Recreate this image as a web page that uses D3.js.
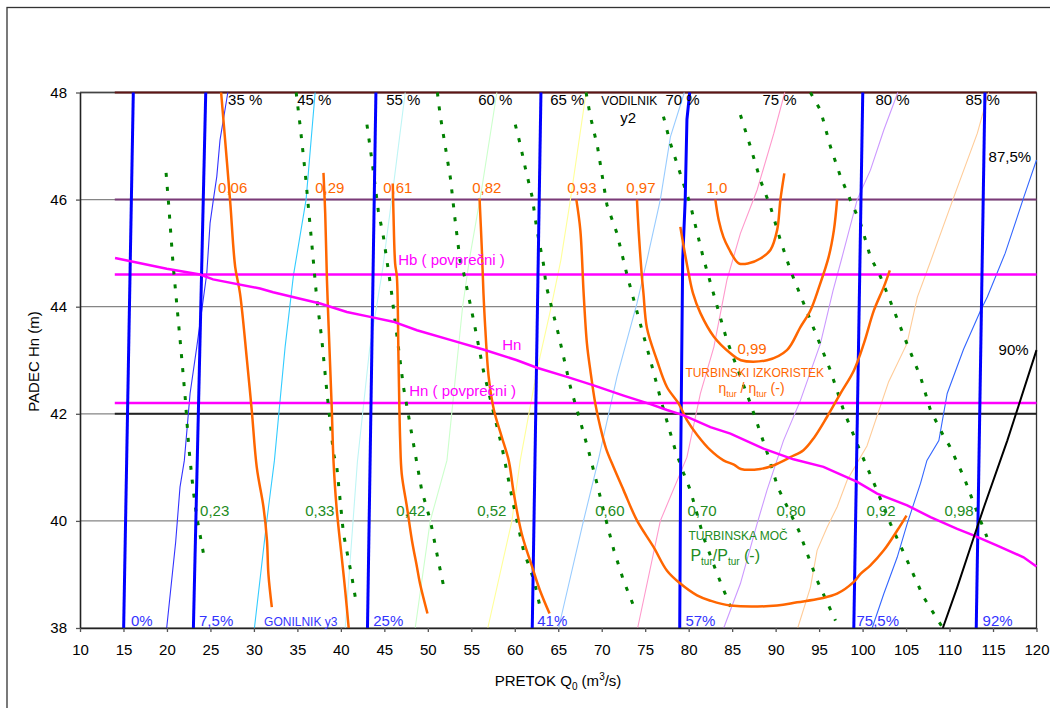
<!DOCTYPE html>
<html><head><meta charset="utf-8">
<script src="https://cdn.jsdelivr.net/npm/d3@7/dist/d3.min.js"></script>
<style>
body{margin:0;background:#fff}
svg{display:block;font-family:"Liberation Sans",Arial,sans-serif}
</style>
</head><body>
<svg id="c" width="1050" height="708"></svg>
<script>
// ---------------- DATA ----------------
const xTicks = [10,15,20,25,30,35,40,45,50,55,60,65,70,75,80,85,90,95,100,105,110,115,120];
const yTicks = [38,40,42,44,46,48];

// guide vane opening (GONILNIK y3) – thick blue lines
const gonilnikLabels = ["0%","7,5%","25%","41%","57%","75,5%","92%"];
const gonilnikLines = [
  [[15.02,38],[16.13,48]],
  [[23.04,38],[24.46,48]],
  [[43.06,38],[44.03,48]],
  [[62.01,38],[63.01,48]],
  [[78.97,38],[79.08,41.13],[79.31,44.87],[79.6,46],[79.8,47.5],[80.12,48]],
  [[98.99,38],[100.02,48]],
  [[113.07,38],[114.07,48]]
];

// runner blade opening (VODILNIK y2) – thin coloured lines
const vodilnikLabels = ["35 %","45 %","55 %","60 %","65 %","70 %","75 %","80 %","85 %","87,5%"];
const vodilnikLines = [
  [[19.97,38],[21.0,39.6],[21.5,40.63],[22.0,41.13],[22.66,42.38],[23.43,43.25],[24.58,44.62],[24.96,45.56],[25.34,46],[25.73,46.43],[26.1,47.11],[27.0,48]],
  [[30.06,38],[31.48,40],[32.36,41.13],[33.59,43.25],[34.55,44.59],[36.0,46],[37.04,48]],
  [[40.5,38],[41.9,41.1],[43.3,43.2],[44.8,44.7],[46.0,46.2],[47.4,48]],
  [[48.55,38],[50.28,40],[52.2,41.13],[54.0,44.0],[54.8,44.9],[56.2,46.2],[57.94,48]],
  [[56.9,38],[59.67,40],[60.63,41.13],[62.55,42.81],[64.1,43.93],[65.3,44.87],[66.4,46],[68.2,48]],
  [[65.04,38],[67.9,40],[69.6,41.13],[71.75,42.69],[74.05,44.06],[75.2,44.87],[76.74,46],[77.9,47.17],[79.5,48]],
  [[74.13,38],[76.74,40],[79.8,41.19],[81.35,42.38],[82.9,43.25],[84.4,44.5],[85.95,45.37],[87.87,46.18],[89.8,47.24],[91.05,48]],
  [[84.03,38],[85.95,38.83],[87.87,39.95],[89.0,40.57],[90.9,41.5],[92.85,42.25],[95.15,43.31],[96.6,44.3],[97.6,44.9],[99.38,46],[100.9,46.55],[102.44,47.3],[104.05,48]],
  [[92.54,38],[94.0,38.76],[94.77,39.45],[95.92,39.88],[97.07,40.26],[98.22,40.76],[100.5,41.4],[103.0,42.6],[105.1,43.31],[106.3,44.18],[107.8,44.84],[110.5,46.05],[113.2,47.24],[114.5,48]],
  [[101.1,38],[102.44,38.64],[103.98,39.32],[105.13,39.95],[106.66,40.7],[107.4,41.13],[108.77,41.5],[109.73,42.38],[111.6,43.2],[113.57,43.93],[114.34,44.18],[116.4,45.0],[118.55,46.05],[120.0,46.74]]
];
const line90Label = "90%";
const line90 = [[109.23,38],[110.88,38.76],[112.8,39.7],[113.96,40.26],[116.64,41.5],[117.4,41.88],[120,43.19]];

// turbine power (TURBINSKA MOČ) – green dotted lines
const powerLabels = ["0,23","0,33","0,42","0,52","0,60","0,70","0,80","0,92","0,98"];
const powerLines = [
  [[19.9,46.5],[20.2,45.9],[20.7,44.8],[21.5,43.4],[22.1,42.3],[22.5,41.4],[23.0,40.6],[23.4,40.1],[24.3,39.3]],
  [[34.86,48],[35.3,47.4],[35.9,46.5],[36.7,45.1],[37.2,44.2],[37.8,43.4],[38.4,42.4],[39.15,41.26],[39.54,41.0],[40.3,39.76],[41.27,38.95],[41.84,38.4]],
  [[43.0,47.4],[43.6,46.7],[44.3,45.8],[44.9,45.3],[45.8,44.3],[46.1,43.9],[47.2,42.5],[48.35,41.44],[49.3,40.57],[50.3,40.0],[51.2,39.26],[52.0,38.64]],
  [[51.1,48],[51.4,47.6],[52.0,47.0],[52.6,46.4],[53.15,45.6],[53.7,44.87],[54.1,44.65],[55.3,43.72],[56.4,42.8],[57.6,42.0],[58.5,41.4],[59.9,40.26],[61.0,39.45],[62.2,38.9],[62.9,38.4]],
  [[60.06,47.4],[60.6,47.05],[61.2,46.6],[62.0,46.05],[62.55,45.43],[63.3,44.8],[63.6,44.4],[65.0,43.5],[66.4,42.5],[67.5,41.88],[68.5,41.3],[69.45,40.7],[70.2,40.2],[71.4,39.45],[72.5,38.89],[73.7,38.4]],
  [[68.2,48],[68.7,47.55],[69.5,47.0],[70.6,45.9],[71.75,45.37],[72.9,44.6],[74.4,43.7],[75.6,43.0],[76.9,42.2],[78.5,41.3],[79.4,40.9],[80.2,40.57],[81.7,39.7],[83.3,39.0],[84.8,38.4]],
  [[77.1,47.55],[77.9,47.05],[79.0,46.5],[80.2,45.9],[81.7,44.9],[82.3,44.56],[84.4,43.37],[87.1,42.19],[89.2,41.19],[90.24,40.63],[92.66,39.82],[94.77,38.89],[96.88,38.14]],
  [[85.95,47.58],[87.1,46.99],[88.25,46.36],[89.4,45.87],[90.55,45.24],[91.7,44.68],[93.23,44.06],[94.76,43.44],[96.3,42.81],[97.8,42.07],[99.6,41.35],[101.5,40.63],[103.2,39.95],[105.13,39.26],[107.0,38.58],[109.15,38.02]],
  [[94.0,48],[95.16,47.67],[96.3,46.99],[97.46,46.43],[98.6,45.99],[99.76,45.56],[100.9,44.93],[102.06,44.56],[103.0,44.18],[103.6,43.93],[105.1,43.31],[106.66,42.69],[107.8,42.07],[109.35,41.57],[110.0,41.4],[111.65,40.82],[112.8,40.32],[114.3,39.7]]
];

// turbine efficiency (TURBINSKI IZKORISTEK) – orange lines
const effLabels = ["0,06","0,29","0,61","0,82","0,93","0,97","1,0","0,99"];
const effLines = [
  [[26.23,48],[26.9,46.7],[27.3,45.9],[27.85,44.74],[28.4,44.25],[29.2,43.0],[29.75,42.07],[30.33,41.0],[31.1,40.26],[31.5,39.64],[31.67,39.0],[32.06,38.39]],
  [[38.0,46.5],[38.2,45.74],[38.4,44.5],[38.6,43.6],[38.96,42.07],[39.15,41.13],[39.5,40.26],[40.1,39.32],[40.5,38.7],[40.9,38.0]],
  [[45.97,46.3],[46.05,45.74],[46.24,44.81],[46.44,44.56],[46.63,43.0],[46.82,41.5],[47.0,40.88],[47.6,40.26],[48.17,39.64],[48.75,39.14],[49.1,38.83],[49.96,38.27]],
  [[55.95,46.02],[56.2,45.12],[56.4,44.25],[56.6,43.62],[57.0,42.69],[57.6,42.07],[58.5,41.57],[59.3,41.13],[59.9,40.5],[60.8,39.76],[62.0,39.14],[62.9,38.7],[64.0,38.27]],
  [[67.08,46],[67.54,45.43],[67.92,44.25],[68.3,43.31],[68.69,42.81],[69.26,42.19],[69.84,41.75],[70.5,41.35],[71.37,41.0],[72.52,40.57],[74.05,40.01],[75.97,39.51],[77.51,39.07],[79.04,38.83],[80.96,38.61],[82.5,38.51],[84.8,38.42],[90.17,38.42],[92.47,38.48],[95.15,38.55],[97.07,38.64],[98.99,38.86],[99.76,39.01],[100.9,39.17],[102.44,39.45],[103.98,39.82],[105.05,40.1]],
  [[74.05,46],[74.24,45.43],[74.6,44.6],[74.8,44.25],[75.2,43.6],[76.35,43.0],[77.5,42.5],[78.85,42.19],[79.8,41.88],[81.0,41.6],[82.5,41.32],[84.0,41.13],[85.2,41.05],[86.0,40.97],[88.25,40.97],[89.8,41.04],[91.7,41.19],[93.2,41.32],[94.4,41.55],[95.9,41.94],[97.46,42.38],[99.0,42.81],[100.14,43.31],[101.3,43.93],[102.44,44.37],[103.13,44.68]],
  [[83.07,46],[83.45,45.62],[84.0,45.3],[84.6,45.09],[85.75,44.81],[86.9,44.81],[88.25,44.9],[89.4,45.06],[90.17,45.43],[90.55,46.0],[91.0,46.49]],
  [[79.04,45.49],[79.43,45.12],[80.0,44.62],[80.5,44.25],[81.35,43.88],[82.9,43.44],[84.8,43.13],[86.0,43.0],[89.0,43.0],[91.3,43.19],[92.85,43.62],[94.0,43.93],[95.0,44.37],[96.1,44.93],[96.7,45.43],[97.07,46.0]]
];

// net head Hn versus flow
const hnLine = [[14.03,44.91],[19.98,44.71],[23.81,44.6],[25.3,44.51],[30.71,44.34],[32.21,44.27],[35.32,44.15],[37.62,44.06],[40.69,43.9],[43.37,43.81],[46.02,43.72],[48.75,43.56],[52.57,43.38],[56.38,43.2],[60.25,43.0],[62.55,42.86],[66.01,42.69],[69.07,42.53],[72.52,42.34],[75.59,42.18],[77.51,42.07],[79.43,41.97],[82.5,41.75],[84.8,41.63],[88.6,41.35],[92.05,41.15],[95.5,41.01],[99.38,40.73],[101.68,40.51],[105.13,40.29],[107.81,40.07],[110.88,39.85],[112.76,39.73],[115.49,39.54],[118.51,39.32],[120,39.15]];

// horizontal reference levels
const levelRange = [14,120];
const hbAvg = 44.6;     // Hb ( povprečni )
const hnAvg = 42.2;     // Hn ( povprečni )
const level48 = 48, level46 = 46, level42 = 42;

// label anchors (data units)
const vodilnikLabelAt = [[27.03,47.77],[34.97,47.77],[45.21,47.77],[55.8,47.77],[64.08,47.77],[77.32,47.77],[88.48,47.77],[101.48,47.77],[111.84,47.77],[114.49,46.71]];
const gonilnikLabelAt = [[15.87,38.03],[23.69,38.03],[43.72,38.03],[62.59,38.03],[79.62,38.03],[99.3,38.03],[113.8,38.03]];
const powerLabelAt = [[23.81,40.09],[35.89,40.09],[46.36,40.09],[55.68,40.09],[69.26,40.09],[79.85,40.09],[90.09,40.09],[100.45,40.09],[109.42,40.09]];
const effLabelAt = [[25.88,46.12],[37.04,46.12],[44.87,46.12],[55.11,46.12],[66.04,46.12],[72.83,46.12],[82.04,46.12],[85.6,43.11]];

// ---------------- DRAW ----------------
const svg = d3.select("#c");
const x = d3.scaleLinear().domain([10,120]).range([80,1036.5]);
const y = d3.scaleLinear().domain([38,48]).range([628,92.5]);
const line = d3.line().x(d=>x(d[0])).y(d=>y(d[1]));
const smooth = d3.line().x(d=>x(d[0])).y(d=>y(d[1])).curve(d3.curveCatmullRom.alpha(0.5));

// chart area border
svg.append("rect").attr("x",7).attr("y",7.5).attr("width",1100).attr("height",800)
  .attr("fill","#fff").attr("stroke","#333").attr("stroke-width",1.3);

// gridlines
svg.append("g").selectAll("line").data(yTicks).join("line")
  .attr("x1",x(10)).attr("x2",x(120)).attr("y1",d=>y(d)).attr("y2",d=>y(d))
  .attr("stroke","#858585").attr("stroke-width",1.3);

// plot frame (top/right)
svg.append("line").attr("x1",x(10)).attr("x2",x(120)).attr("y1",y(48)).attr("y2",y(48)).attr("stroke","#444").attr("stroke-width",1.5);
svg.append("line").attr("x1",x(120)).attr("x2",x(120)).attr("y1",y(48)).attr("y2",y(38)).attr("stroke","#333").attr("stroke-width",1.3);

const g = svg.append("g");
function hline(v,color,w){
  g.append("path").attr("d",line([[levelRange[0],v],[levelRange[1],v]]))
   .attr("fill","none").attr("stroke",color).attr("stroke-width",w);
}
hline(level48,"#5e1414",2);
hline(level46,"#7a3a78",2);
hline(level42,"#222",2);

// thin vodilnik lines
const vColors = ["#3333ff","#33ccff","#bff5f5","#ccffcc","#ffff99","#99ccff","#ff99cc","#cc99ff","#ffcc99","#3366ff"];
g.selectAll(".vod").data(vodilnikLines).join("path").attr("class","vod")
  .attr("d",line).attr("fill","none").attr("stroke",(d,i)=>vColors[i]).attr("stroke-width",1.1);

// magenta averages
hline(hbAvg,"#ff00ff",2.5);
hline(hnAvg,"#ff00ff",2.5);

// green dotted power lines
g.selectAll(".pow").data(powerLines).join("path").attr("class","pow")
  .attr("d",line).attr("fill","none").attr("stroke","#008000").attr("stroke-width",3)
  .attr("stroke-dasharray","4,10");

// blue gonilnik lines
g.selectAll(".gon").data(gonilnikLines).join("path").attr("class","gon")
  .attr("d",line).attr("fill","none").attr("stroke","#0000ff").attr("stroke-width",3);

// orange efficiency lines
g.selectAll(".eff").data(effLines).join("path").attr("class","eff")
  .attr("d",smooth).attr("fill","none").attr("stroke","#ff6600").attr("stroke-width",2.5);

// Hn curve
g.append("path").attr("d",line(hnLine)).attr("fill","none").attr("stroke","#ff00ff").attr("stroke-width",2.5);
// 90% line
g.append("path").attr("d",line(line90)).attr("fill","none").attr("stroke","#000").attr("stroke-width",2);

// axes
const ax = svg.append("g").attr("transform",`translate(${x(10)},0)`)
  .call(d3.axisLeft(y).tickValues(yTicks).tickSize(4).tickSizeOuter(0).tickPadding(9));
const axb = svg.append("g").attr("transform",`translate(0,${y(38)})`)
  .call(d3.axisBottom(x).tickValues(xTicks).tickSize(4).tickSizeOuter(0).tickPadding(12));
[ax,axb].forEach(a=>{
  a.selectAll("text").attr("font-size",15).attr("font-family","Liberation Sans, Arial, sans-serif").attr("fill","#000");
  a.select(".domain").attr("stroke","#222").attr("stroke-width",1.6);
  a.selectAll(".tick line").attr("stroke","#555").attr("stroke-width",1.3);
});

// text helpers
function label(txt,pos,color,size,anchor){
  svg.append("text").attr("x",x(pos[0])).attr("y",y(pos[1])).text(txt)
    .attr("fill",color).attr("font-size",size).attr("text-anchor",anchor||"start");
}
function rich(parts,px,py,color,size,small,anchor){
  const t = svg.append("text").attr("x",px).attr("y",py).attr("fill",color)
    .attr("font-size",size).attr("text-anchor",anchor||"start");
  parts.forEach(p=>{
    const s = t.append("tspan").text(p.t);
    if(p.sub){ s.attr("font-size",small).attr("dy",size*0.28); }
    else if(p.sup){ s.attr("font-size",small).attr("dy",-size*0.38); }
    if(p.back) s.attr("dy",p.back);
  });
  return t;
}

vodilnikLabels.forEach((t,i)=>label(t,vodilnikLabelAt[i],"#000",15));
label(line90Label,[115.64,43.09],"#000",15);
label("VODILNIK",[69.95,47.77],"#000",12);
label("y2",[72.14,47.43],"#000",15);

gonilnikLabels.forEach((t,i)=>label(t,gonilnikLabelAt[i],"#3333ff",15));
label("GONILNIK y3",[31.17,38.03],"#3333ff",12);

powerLabels.forEach((t,i)=>label(t,powerLabelAt[i],"#228b22",15));
label("TURBINSKA MOČ",[79.97,39.65],"#228b22",12);
rich([{t:"P"},{t:"tur",sub:true},{t:"/P",back:-16*0.28},{t:"tur",sub:true},{t:" (-)",back:-16*0.28}],
     x(80.2),y(39.26),"#228b22",16,10);

effLabels.forEach((t,i)=>label(t,effLabelAt[i],"#ff6600",15));
label("TURBINSKI IZKORISTEK",[79.62,42.68],"#ff6600",12);
rich([{t:"η"},{t:"tur",sub:true},{t:" / η",back:-14*0.28},{t:"tur",sub:true},{t:" (-)",back:-14*0.28}],
     x(83.42),y(42.38),"#ff6600",14,9);

label("Hb ( povprečni )",[46.59,44.78],"#ff00ff",15);
label("Hn ( povprečni )",[47.86,42.33],"#ff00ff",15);
label("Hn",[58.56,43.19],"#ff00ff",15);

// axis titles
svg.append("text").attr("transform","translate(38.5,361.5) rotate(-90)")
  .attr("text-anchor","middle").attr("font-size",15).attr("fill","#000").text("PADEC Hn (m)");
rich([{t:"PRETOK Q"},{t:"0",sub:true},{t:" (m",back:-15*0.28},{t:"3",sup:true},{t:"/s)",back:15*0.38}],
     558,686,"#000",15,10,"middle");
</script>
</body></html>
